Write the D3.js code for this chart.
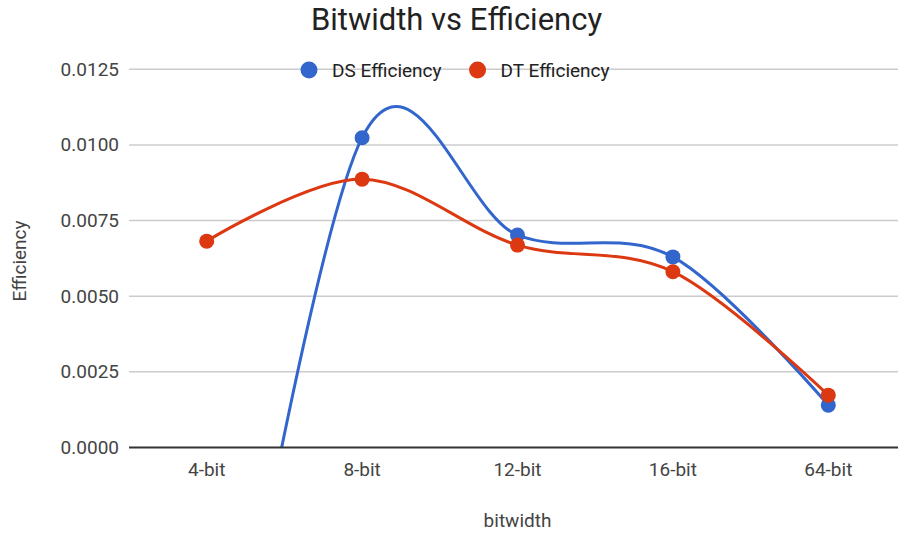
<!DOCTYPE html>
<html>
<head>
<meta charset="utf-8">
<script src="https://cdn.jsdelivr.net/npm/d3@7"></script>
<style>
  html, body { margin: 0; padding: 0; background: #fff; }
  svg { display: block; font-family: Roboto, "Noto Sans", Arial, sans-serif; }
</style>
</head>
<body>
<svg id="chart" width="898" height="535"></svg>
<script>
// Categories along the x axis
const categories = ["4-bit", "8-bit", "12-bit", "16-bit", "64-bit"];
// Efficiency per bitwidth for each series
const dsEfficiency = [-0.0132, 0.01024, 0.00702, 0.0063, 0.0014];
const dtEfficiency = [0.00682, 0.00887, 0.00669, 0.00581, 0.00173];
// Y axis ticks
const yTicks = [0, 0.0025, 0.005, 0.0075, 0.01, 0.0125];

const seriesNames = ["DS Efficiency", "DT Efficiency"];
const seriesColors = ["#3366cc", "#dc3912"];
const seriesValues = [dsEfficiency, dtEfficiency];

const svg = d3.select("#chart");
const plot = { left: 129, right: 906, top: 69.3, bottom: 447.5 };

const x = d3.scalePoint().domain(categories).range([plot.left, plot.right]).padding(0.5);
const y = d3.scaleLinear().domain([0, 0.0125]).range([plot.bottom, plot.top]);

// Clip region for the plotting area
svg.append("defs").append("clipPath").attr("id", "plot-clip")
  .append("rect")
  .attr("x", plot.left).attr("y", plot.top - 20)
  .attr("width", plot.right - plot.left)
  .attr("height", plot.bottom - plot.top + 20);

// Horizontal gridlines
svg.append("g").selectAll("line")
  .data(yTicks.filter(d => d !== 0))
  .join("line")
  .attr("x1", plot.left).attr("x2", plot.right)
  .attr("y1", d => y(d)).attr("y2", d => y(d))
  .attr("stroke", "#cccccc").attr("stroke-width", 1.5);

// Y tick labels
svg.append("g").selectAll("text")
  .data(yTicks)
  .join("text")
  .attr("x", 119).attr("y", d => y(d))
  .attr("text-anchor", "end").attr("dominant-baseline", "central")
  .attr("font-size", 19).attr("fill", "#444")
  .text(d => d3.format(".4f")(d));

// X tick labels
svg.append("g").selectAll("text")
  .data(categories)
  .join("text")
  .attr("x", d => x(d)).attr("y", 476)
  .attr("text-anchor", "middle")
  .attr("font-size", 19).attr("fill", "#444")
  .text(d => d);

// Axis titles
svg.append("text")
  .attr("x", x(categories[2])).attr("y", 527)
  .attr("text-anchor", "middle")
  .attr("font-size", 19).attr("fill", "#444")
  .text("bitwidth");

svg.append("text")
  .attr("transform", "translate(19.5,261) rotate(-90)")
  .attr("text-anchor", "middle").attr("dominant-baseline", "central")
  .attr("font-size", 19).attr("fill", "#444")
  .text("Efficiency");

// Title
svg.append("text")
  .attr("x", 456.5).attr("y", 30)
  .attr("text-anchor", "middle")
  .attr("font-size", 31).attr("fill", "#222")
  .text("Bitwidth vs Efficiency");

// Series: smooth lines with point markers
const line = d3.line()
  .x((d, i) => x(categories[i]))
  .y(d => y(d))
  .curve(d3.curveCatmullRom.alpha(0));

const plotG = svg.append("g").attr("clip-path", "url(#plot-clip)");
seriesValues.forEach((vals, s) => {
  const g = plotG.append("g");
  g.append("path")
    .attr("d", line(vals))
    .attr("fill", "none")
    .attr("stroke", seriesColors[s])
    .attr("stroke-width", 3);
  g.selectAll("circle")
    .data(vals)
    .join("circle")
    .attr("cx", (d, i) => x(categories[i]))
    .attr("cy", d => y(d))
    .attr("r", 7.5)
    .attr("fill", seriesColors[s]);
});

// Baseline at zero
svg.append("line")
  .attr("x1", plot.left).attr("x2", plot.right)
  .attr("y1", y(0)).attr("y2", y(0))
  .attr("stroke", "#333").attr("stroke-width", 2);

// Legend
const legend = svg.append("g");
let lx = 300.5;
seriesNames.forEach((name, s) => {
  const item = legend.append("g");
  item.append("circle")
    .attr("cx", lx + 8.5).attr("cy", 70)
    .attr("r", 8.5).attr("fill", seriesColors[s]);
  const t = item.append("text")
    .attr("x", lx + 31.5).attr("y", 70)
    .attr("dominant-baseline", "central")
    .attr("font-size", 19).attr("fill", "#222")
    .text(name);
  const tw = t.node().getComputedTextLength();
  lx += 31.5 + tw + 27.5;
});
</script>
</body>
</html>
